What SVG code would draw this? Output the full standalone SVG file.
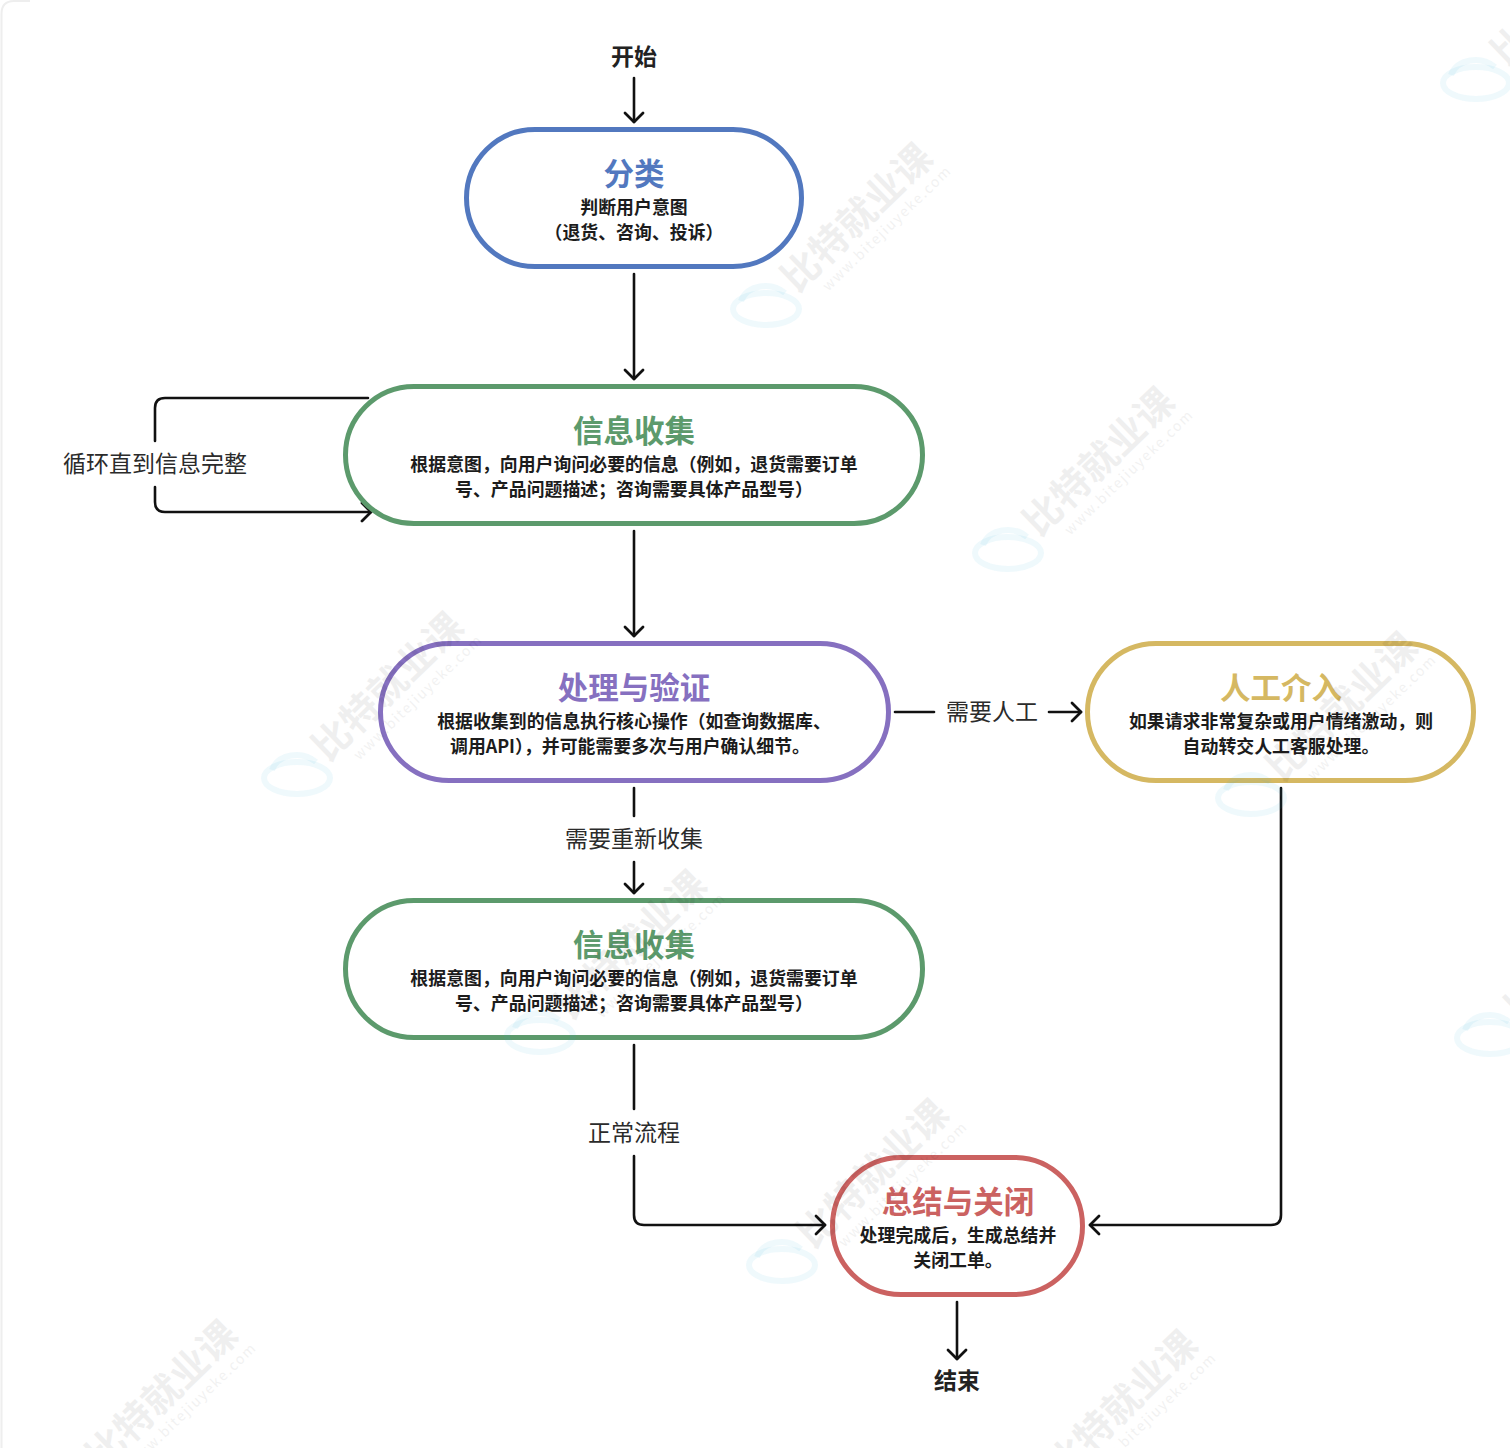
<svg xmlns="http://www.w3.org/2000/svg" width="1510" height="1448" viewBox="0 0 1510 1448">
<style>
text{font-family:"Noto Sans CJK SC","Noto Sans",sans-serif;text-anchor:middle}
.n{fill:#fff;stroke-width:5}
.t{font-size:30.500px;font-weight:700}
.s{font-size:17.900px;font-weight:600;fill:#1c1c1c}
.l{font-size:23px;fill:#2b2b2b}
.e{font-size:23px;font-weight:600;fill:#222}
.c{fill:none;stroke:#111;stroke-width:2.6;stroke-linecap:round;stroke-linejoin:round}
.wt{font-size:38px;font-weight:700;fill:#000;opacity:.06}
.wu{font-size:14px;fill:#000;opacity:.05;letter-spacing:.6px}
.wl{fill:none;stroke:#35b4d8;stroke-width:6;opacity:.08}
</style>
<defs>
<marker id="a" markerUnits="userSpaceOnUse" markerWidth="20" markerHeight="24" refX="15" refY="12" orient="auto"><path d="M6 3L15 12L6 21" fill="none" stroke="#111" stroke-width="2.8" stroke-linecap="round" stroke-linejoin="round"/></marker>
<g id="wm"><g transform="translate(12 11) rotate(-44)"><text class="wt" x="0" y="0" style="text-anchor:start" textLength="192">比特就业课</text><text class="wu" x="24" y="20" style="text-anchor:start" textLength="172">www.bitejiuyeke.com</text></g><ellipse class="wl" cx="-19" cy="26" rx="33" ry="16"/><path class="wl" d="M-44 18C-38 2 -14 -2 0 10"/></g>
</defs>
<rect width="1510" height="1448" fill="#fff"/>
<path d="M1.500 1448V14Q1.500 1 14 1H30" fill="none" stroke="#eeeeee" stroke-width="2"/>
<g id="connectors">
<path class="c" marker-end="url(#a)" d="M634 78V122"/>
<path class="c" marker-end="url(#a)" d="M634 274V379"/>
<path class="c" d="M368 398H165Q155 398 155 408V441"/>
<path class="c" marker-end="url(#a)" d="M155 487V502Q155 512 165 512H371"/>
<path class="c" marker-end="url(#a)" d="M634 531V636"/>
<path class="c" d="M634 788V816"/>
<path class="c" marker-end="url(#a)" d="M634 862V893"/>
<path class="c" d="M895 712H934"/>
<path class="c" marker-end="url(#a)" d="M1049 712H1081"/>
<path class="c" d="M634 1045V1109"/>
<path class="c" marker-end="url(#a)" d="M634 1156V1215Q634 1225 644 1225H825"/>
<path class="c" marker-end="url(#a)" d="M1281 788V1215Q1281 1225 1271 1225H1090"/>
<path class="c" marker-end="url(#a)" d="M957 1302V1359"/>
<text class="l" x="155" y="472">循环直到信息完整</text>
<text class="l" x="992" y="720">需要人工</text>
<text class="l" x="634" y="847">需要重新收集</text>
<text class="l" x="634" y="1141">正常流程</text>
</g>
<g id="start"><text class="e" x="634" y="65">开始</text></g>
<g id="classify"><rect class="n" x="466.500" y="129.500" width="335" height="137" rx="68.500" stroke="#5278bf"/><text class="t" x="634" y="185" fill="#5278bf">分类</text><text class="s" x="634" y="214">判断用户意图</text><text class="s" x="634" y="239">（退货、咨询、投诉）</text></g>
<g id="collect1"><rect class="n" x="345.500" y="386.500" width="577" height="137" rx="68.500" stroke="#5c9a6c"/><text class="t" x="634" y="442" fill="#5c9a6c">信息收集</text><text class="s" x="634" y="471">根据意图，向用户询问必要的信息（例如，退货需要订单</text><text class="s" x="634" y="496">号、产品问题描述；咨询需要具体产品型号）</text></g>
<g id="process"><rect class="n" x="380.500" y="643.500" width="508" height="137" rx="68.500" stroke="#8670c0"/><text class="t" x="634" y="699" fill="#8670c0">处理与验证</text><text class="s" x="634" y="728">根据收集到的信息执行核心操作（如查询数据库、</text><text class="s" x="630" y="753" textLength="360">调用API），并可能需要多次与用户确认细节。</text></g>
<g id="human"><rect class="n" x="1087.500" y="643.500" width="386" height="137" rx="68.500" stroke="#d5b862"/><text class="t" x="1281" y="699" fill="#d5b862">人工介入</text><text class="s" x="1281" y="728">如果请求非常复杂或用户情绪激动，则</text><text class="s" x="1281" y="753">自动转交人工客服处理。</text></g>
<g id="collect2"><rect class="n" x="345.500" y="900.500" width="577" height="137" rx="68.500" stroke="#5c9a6c"/><text class="t" x="634" y="956" fill="#5c9a6c">信息收集</text><text class="s" x="634" y="985">根据意图，向用户询问必要的信息（例如，退货需要订单</text><text class="s" x="634" y="1010">号、产品问题描述；咨询需要具体产品型号）</text></g>
<g id="close"><rect class="n" x="832.500" y="1157.500" width="250" height="137" rx="68.500" stroke="#cb6261"/><text class="t" x="958" y="1213" fill="#cb6261">总结与关闭</text><text class="s" x="958" y="1242">处理完成后，生成总结并</text><text class="s" x="958" y="1267">关闭工单。</text></g>
<g id="end"><text class="e" x="957" y="1389">结束</text></g>
<g id="watermarks">
<use href="#wm" x="785" y="283"/><use href="#wm" x="1027" y="527"/><use href="#wm" x="316" y="752"/><use href="#wm" x="1270" y="772"/><use href="#wm" x="559" y="1010"/><use href="#wm" x="801" y="1239"/><use href="#wm" x="90" y="1460"/><use href="#wm" x="1050" y="1470"/><use href="#wm" x="1495" y="57"/><use href="#wm" x="1509" y="1012"/>
</g>
</svg>
